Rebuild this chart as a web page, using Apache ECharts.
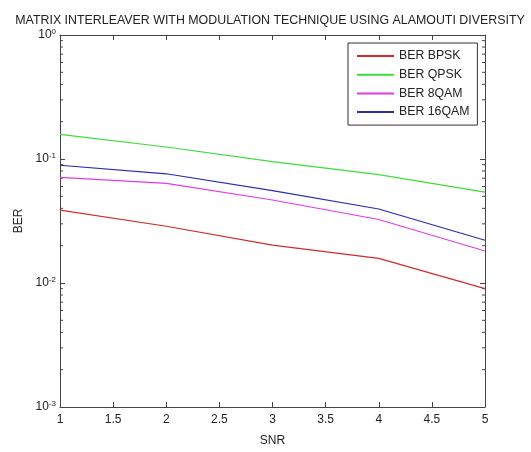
<!DOCTYPE html>
<html lang="en">
<head>
    <meta charset="UTF-8">
    <title>Matrix interleaver BER</title>
    <script src="https://cdn.jsdelivr.net/npm/echarts@6/dist/echarts.min.js"></script>
</head>
<body style="margin: 0">
<div id="chart" style="width: 531px;height: 452px"></div>
<script>
    // SNR points and BER readings for each modulation
    let snr = [1, 2, 3, 4, 5];
    let berBpsk = [0.0387, 0.0287, 0.0202, 0.0158, 0.0090];
    let berQpsk = [0.158, 0.125, 0.0953, 0.0747, 0.054];
    let ber8qam = [0.071, 0.0635, 0.0467, 0.0325, 0.0181];
    let ber16qam = [0.089, 0.076, 0.0555, 0.0395, 0.0221];
    let seriesNames = ['BER BPSK', 'BER QPSK', 'BER 8QAM', 'BER 16QAM'];
    let colors = ['#d42a2a', '#3ddc3d', '#e23ae2', '#2b2bb5'];
    // minor ticks of the log axis (2..9 of each decade)
    let minorTicks = [];
    for (let e = -3; e < 0; e++) {
        for (let m = 2; m <= 9; m++) {
            minorTicks.push(m * Math.pow(10, e));
        }
    }

    let font = 'Arial, "Liberation Sans", sans-serif';
    let axisColor = '#444';

    function pairs(ys) {
        return snr.map((x, i) => [x, ys[i]]);
    }

    let lineData = [berBpsk, berQpsk, ber8qam, ber16qam];
    let series = lineData.map((ys, i) => ({
        name: seriesNames[i],
        type: 'line',
        symbol: 'none',
        data: pairs(ys),
        lineStyle: { color: colors[i], width: 1.2 },
        itemStyle: { color: colors[i] },
        z: 3
    }));

    series.push({
        type: 'custom',
        silent: true,
        data: minorTicks.map(v => [1, v]),
        renderItem: function (params, api) {
            let l = api.coord([1, api.value(1)]);
            let r = api.coord([5, api.value(1)]);
            let st = { stroke: axisColor, lineWidth: 1 };
            return {
                type: 'group',
                children: [
                    { type: 'line', shape: { x1: l[0], y1: l[1], x2: l[0] + 3, y2: l[1] }, style: st },
                    { type: 'line', shape: { x1: r[0] - 3, y1: r[1], x2: r[0], y2: r[1] }, style: st }
                ]
            };
        },
        z: 2
    });

    let chart = echarts.init(document.getElementById('chart'));

    let yLabel = {
        formatter: function (v) {
            let e = Math.round(Math.log10(v));
            return '{b|10}{s|' + e + '}';
        },
        margin: 4,
        rich: {
            b: { fontFamily: font, fontSize: 12, color: '#222', lineHeight: 14 },
            s: { fontFamily: font, fontSize: 8, color: '#222', verticalAlign: 'top', padding: [0, 0, 7, 0] }
        }
    };

    let option = {
        animation: false,
        backgroundColor: '#fff',
        title: {
            text: 'MATRIX INTERLEAVER WITH MODULATION TECHNIQUE USING ALAMOUTI DIVERSITY',
            left: 265,
            textAlign: 'center',
            top: 10,
            textStyle: { fontFamily: font, fontSize: 12.4, fontWeight: 'normal', color: '#222' }
        },
        legend: {
            orient: 'vertical',
            left: 348,
            top: 43,
            data: seriesNames,
            itemWidth: 37,
            itemHeight: 12,
            itemGap: 6.7,
            padding: [7, 8, 7, 8],
            borderColor: '#333',
            borderWidth: 1,
            backgroundColor: '#fff',
            itemStyle: { opacity: 0 },
            textStyle: { fontFamily: font, fontSize: 12.3, color: '#222' }
        },
        grid: { left: 60, right: 46, top: 35, bottom: 38 },
        xAxis: [{
            type: 'value',
            min: 1,
            max: 5,
            interval: 0.5,
            name: 'SNR',
            nameLocation: 'middle',
            nameGap: 28,
            nameTextStyle: { fontFamily: font, fontSize: 12, color: '#222' },
            axisLine: { lineStyle: { color: axisColor } },
            axisTick: { inside: true, length: 5, lineStyle: { color: axisColor } },
            axisLabel: { fontFamily: font, fontSize: 12, color: '#222', margin: 7 },
            splitLine: { show: false }
        }, {
            type: 'value',
            position: 'top',
            min: 1,
            max: 5,
            interval: 0.5,
            axisLine: { lineStyle: { color: axisColor } },
            axisTick: { inside: true, length: 5, lineStyle: { color: axisColor } },
            axisLabel: { show: false },
            splitLine: { show: false }
        }],
        yAxis: [{
            type: 'log',
            logBase: 10,
            min: 0.001,
            max: 1,
            name: 'BER',
            nameLocation: 'middle',
            nameGap: 34,
            nameTextStyle: { fontFamily: font, fontSize: 12, color: '#222' },
            axisLine: { show: true, lineStyle: { color: axisColor } },
            axisTick: { show: true, inside: true, length: 5, lineStyle: { color: axisColor } },
            axisLabel: yLabel,
            splitLine: { show: false }
        }, {
            type: 'log',
            logBase: 10,
            min: 0.001,
            max: 1,
            position: 'right',
            axisLine: { show: true, lineStyle: { color: axisColor } },
            axisTick: { show: true, inside: true, length: 5, lineStyle: { color: axisColor } },
            axisLabel: { show: false },
            splitLine: { show: false }
        }],
        series: series
    };

    chart.setOption(option);
</script>
</body>
</html>
